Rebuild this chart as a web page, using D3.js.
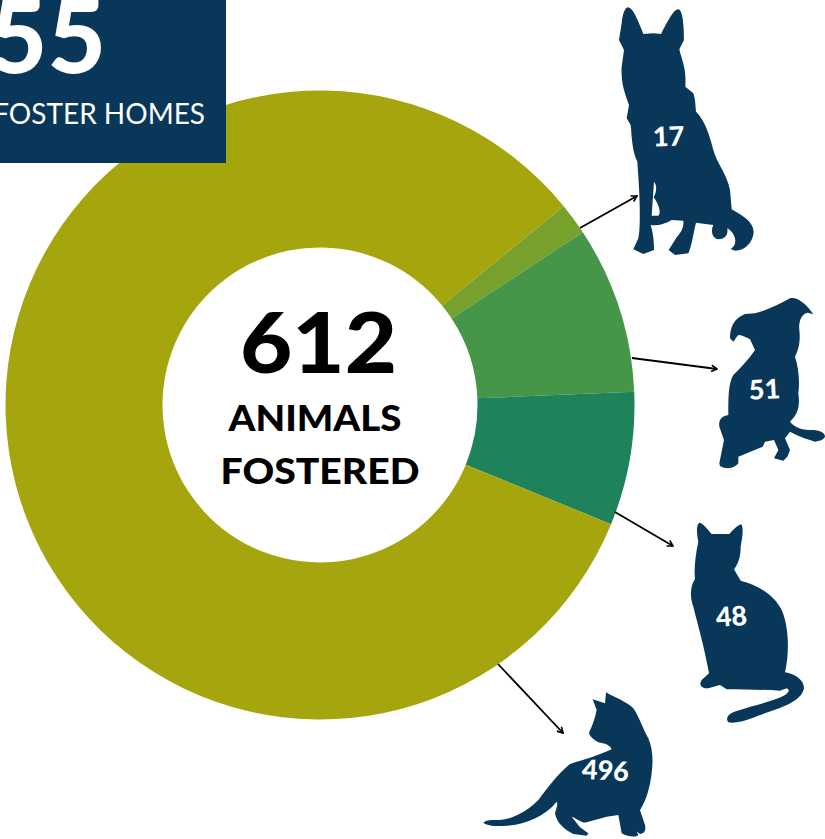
<!DOCTYPE html>
<html><head><meta charset="utf-8">
<script src="https://cdn.jsdelivr.net/npm/d3@7/dist/d3.min.js"></script>
<style>html,body{margin:0;padding:0;background:#fff;overflow:hidden}svg{display:block}</style>
</head><body>
<script>
// Data
const categories = ["Adult dogs", "Puppies", "Adult cats", "Kittens"];
const printedCounts = [17, 51, 48, 496];          // numbers printed on the silhouettes
const drawnSliceSizes = [10, 52.5, 42, 507.5];    // slice sizes as actually drawn in the picture (they differ from the printed counts)
const sliceColors = ["#78a02c", "#469649", "#1e825a", "#a5a50d"];
const totalAnimals = "612";
const totalLines = ["ANIMALS", "FOSTERED"];
const fosterHomes = "55";
const fosterLabel = "FOSTER HOMES";

// Layout
const W = 825, H = 839, cx = 320, cy = 405, rOuter = 314.5, rInner = 157.5;
const navy = "#08375a";
const startDeg = 50.8;
const arrows = [[580,228,637,196],[632,358,717,369],[615,512,673,546],[498,664,563,733]];
const countLabels = [[669,146,-2],[765,399,-3],[732,626,-4],[605,780,3]];
const totalLayout = [[315,431,173],[320,484,199]];

// Silhouettes traced in 3x crop coordinates: [path, offsetX, offsetY]
const silhouettes = [
["M55,22C70,25 85,65 100,102L130,100L153,102C170,70 190,28 205,28C220,30 222,90 222,120L208,148C215,180 230,205 226,260L250,280C256,295 256,315 258,335C285,360 300,410 310,450C320,490 350,520 360,570L365,628C395,645 430,665 431,695C430,725 405,752 375,752L362,747C385,735 378,700 352,685C355,705 345,718 325,718C305,715 302,690 310,675L258,668C250,700 245,740 235,760L195,765L176,750L200,712C215,695 222,680 220,662L185,660C165,672 145,678 122,675C130,700 132,730 132,750L100,762L70,748L85,715C92,690 90,600 85,530L82,485C65,450 65,400 62,375L50,355L57,315C45,280 32,250 35,200L42,150L27,120L35,70C38,40 45,22 55,22ZM132,545C142,558 140,575 131,592C145,610 155,640 145,647L125,647Z",610,0],
["M360,55C385,50 410,75 430,103L413,98C395,100 385,125 388,150C392,185 385,210 375,230C385,260 390,300 385,340C390,380 385,400 360,425C375,445 400,450 430,450C450,452 465,458 465,470C460,482 445,482 435,485L420,480C400,475 380,465 360,455L345,475L360,510L352,530L340,542L312,535L325,510L312,480L285,485L278,500L205,530L205,550C195,565 170,570 150,558L148,550L162,480L148,440C145,420 155,408 175,405C175,350 175,310 190,285C215,260 235,240 255,210L240,178C225,170 215,165 205,165C198,172 195,180 190,185L180,175C180,145 190,115 225,102L255,100C290,90 325,75 360,55Z",670,280],
["M88,38C98,38 115,60 125,72L178,72C190,60 205,42 215,44C222,60 215,90 212,110C212,140 205,160 192,178L212,212C260,225 310,250 335,300C355,345 360,420 345,487C375,492 402,510 402,535C395,575 330,595 270,615C235,630 195,642 175,637C165,625 175,610 200,603C250,585 310,575 345,555C360,545 358,538 350,535L330,542C280,538 220,540 170,538L150,525L115,535C95,535 85,525 95,510L117,490C105,420 85,350 70,290C58,260 62,225 75,207C72,180 75,140 85,95C80,70 78,45 88,38Z",670,510],
["M408,97C430,110 470,125 490,145C510,175 520,210 535,235C548,265 550,300 545,340C540,380 530,420 510,450L525,495C528,510 525,520 510,522L500,515L505,525C500,532 475,532 455,520L445,465L410,470L350,487C335,490 330,480 305,470L330,502L355,520L350,527L310,522C285,510 260,490 255,460C258,445 265,435 260,425C225,470 160,495 110,497C80,500 50,497 40,488C50,478 70,480 90,480C130,478 175,450 205,420C235,380 265,340 300,312C340,300 390,285 425,268C420,255 405,250 385,247C365,235 355,225 358,215C368,195 375,175 380,150L368,118L405,130Z",470,660]
];

const svg = d3.select("body").append("svg").attr("width", W).attr("height", H);

svg.append("defs").append("marker")
  .attr("id","head").attr("viewBox","0 0 10 10").attr("refX",9).attr("refY",5)
  .attr("markerWidth",8).attr("markerHeight",8).attr("markerUnits","userSpaceOnUse").attr("orient","auto")
  .append("path").attr("d","M2,1L9,5L2,9").attr("fill","none").attr("stroke","#000").attr("stroke-width",2);

const pie = d3.pie().sort(null)
  .startAngle(startDeg*Math.PI/180).endAngle((startDeg+360)*Math.PI/180);
const arc = d3.arc().innerRadius(rInner).outerRadius(rOuter);

svg.append("g").attr("transform",`translate(${cx},${cy})`)
  .selectAll("path").data(pie(drawnSliceSizes)).join("path")
  .attr("d",arc).attr("fill",(d,i)=>sliceColors[i]);

svg.append("g").selectAll("line").data(arrows).join("line")
  .attr("x1",d=>d[0]).attr("y1",d=>d[1]).attr("x2",d=>d[2]).attr("y2",d=>d[3])
  .attr("stroke","#000").attr("stroke-width",1.8).attr("marker-end","url(#head)");

svg.append("g").selectAll("path").data(silhouettes).join("path")
  .attr("d",d=>d[0]).attr("fill",navy).attr("fill-rule","evenodd")
  .attr("transform",d=>`translate(${d[1]},${d[2]}) scale(${1/3})`);

const font = "Lato, 'Open Sans', sans-serif";
svg.append("g").selectAll("text").data(printedCounts).join("text")
  .text(d=>d)
  .attr("transform",(d,i)=>`translate(${countLabels[i][0]},${countLabels[i][1]}) rotate(${countLabels[i][2]})`)
  .attr("text-anchor","middle").attr("font-family",font).attr("font-weight",900)
  .attr("font-size",27).attr("fill","#fff");

svg.append("rect").attr("x",0).attr("y",0).attr("width",226).attr("height",163).attr("fill",navy);
svg.append("text").text(fosterHomes).attr("x",106).attr("y",73).attr("text-anchor","end")
  .attr("font-family",font).attr("font-weight",900).attr("font-size",101).attr("fill","#fff");
svg.append("text").text(fosterLabel).attr("x",205).attr("y",124).attr("text-anchor","end")
  .attr("font-family",font).attr("font-weight",400).attr("font-size",28).attr("fill","#fff");

svg.append("text").text(totalAnimals).attr("x",318.5).attr("y",373).attr("text-anchor","middle")
  .attr("textLength",157).attr("lengthAdjust","spacingAndGlyphs")
  .attr("font-family",font).attr("font-weight",900).attr("font-size",84).attr("fill","#000");
svg.append("g").selectAll("text").data(totalLines).join("text")
  .text(d=>d).attr("x",(d,i)=>totalLayout[i][0]).attr("y",(d,i)=>totalLayout[i][1]).attr("text-anchor","middle")
  .attr("textLength",(d,i)=>totalLayout[i][2]).attr("lengthAdjust","spacingAndGlyphs")
  .attr("font-family",font).attr("font-weight",900).attr("font-size",36).attr("fill","#000");
</script>
</body></html>
